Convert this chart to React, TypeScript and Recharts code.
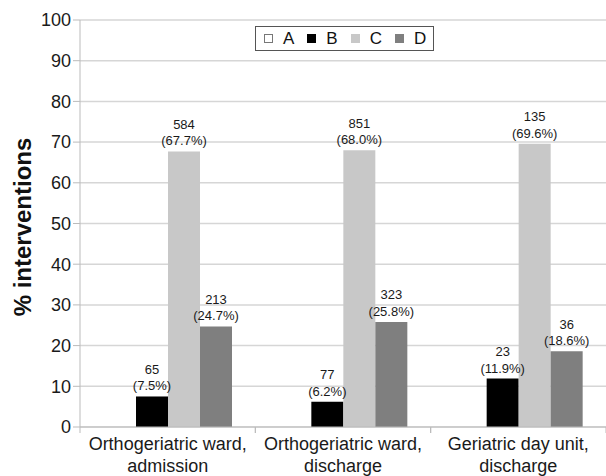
import React from "react";
import {
  BarChart,
  Bar,
  XAxis,
  YAxis,
  CartesianGrid,
  Legend,
  LabelList,
} from "recharts";

const categories = [
  "Orthogeriatric ward, admission",
  "Orthogeriatric ward, discharge",
  "Geriatric day unit, discharge",
];
const categoryLines = [
  ["Orthogeriatric ward,", "admission"],
  ["Orthogeriatric ward,", "discharge"],
  ["Geriatric day unit,", "discharge"],
];
const seriesNames = ["A", "B", "C", "D"];
const seriesColors = ["#ffffff", "#000000", "#c8c8c8", "#7f7f7f"];
const pctA = [0, 0, 0];
const pctB = [7.5, 6.2, 11.9];
const pctC = [67.7, 68.0, 69.6];
const pctD = [24.7, 25.8, 18.6];
const countA: (number | null)[] = [null, null, null];
const countB = [65, 77, 23];
const countC = [584, 851, 135];
const countD = [213, 323, 36];
const yTicks = [0, 10, 20, 30, 40, 50, 60, 70, 80, 90, 100];

const W = 606;
const H = 476;
const Y_W = 80;
const BAND = (W - Y_W) / categories.length;

const data = categories.map((c, i) => ({
  name: c,
  i,
  A: pctA[i],
  B: pctB[i],
  C: pctC[i],
  D: pctD[i],
  nA: countA[i],
  nB: countB[i],
  nC: countC[i],
  nD: countD[i],
}));

const FONT = "'Liberation Sans', Arial, sans-serif";

const XTick = (props: any) => {
  const { x, y, payload, index } = props;
  const lines = categoryLines[payload.index ?? index] || [payload.value];
  return (
    <g>
      <line x1={x - BAND / 2} x2={x - BAND / 2} y1={427} y2={433} stroke="#bbbbbb" />
      <line x1={x + BAND / 2} x2={x + BAND / 2} y1={427} y2={433} stroke="#bbbbbb" />
      <text x={x} y={y} textAnchor="middle" fontSize={18} fill="#1a1a1a" fontFamily={FONT}>
        {lines.map((l: string, k: number) => (
          <tspan key={k} x={x} dy={k === 0 ? 15 : 21.5}>
            {l}
          </tspan>
        ))}
      </text>
    </g>
  );
};

const makeLabel = (countKey: string) => (props: any) => {
  const { x, y, width, index } = props;
  const row: any = data[index];
  const n = row[countKey];
  if (n == null) return null;
  const pct = row[countKey.slice(1)];
  const cx = x + width / 2;
  return (
    <g>
      <text x={cx} y={y - 22.5} textAnchor="middle" fontSize={13} fill="#1a1a1a" fontFamily={FONT}>
        {n}
      </text>
      <text x={cx} y={y - 6} textAnchor="middle" fontSize={13} fill="#1a1a1a" fontFamily={FONT}>
        ({pct.toFixed(1)}%)
      </text>
    </g>
  );
};

const LegendBox = () => (
  <div
    style={{
      display: "flex",
      alignItems: "center",
      border: "1px solid #555",
      background: "#fff",
      height: 23,
      padding: "0 7px 0 8px",
      boxSizing: "content-box",
      fontFamily: FONT,
      fontSize: 17,
      color: "#111",
      whiteSpace: "nowrap",
    }}
  >
    {seriesNames.map((s, i) => (
      <div key={s} style={{ display: "flex", alignItems: "center", marginRight: i === seriesNames.length - 1 ? 0 : 13 }}>
        <span
          style={{
            display: "inline-block",
            width: i === 0 ? 7 : 9,
            height: i === 0 ? 7 : 9,
            background: seriesColors[i],
            border: i === 0 ? "1px solid #777" : "none",
            marginRight: 10,
          }}
        />
        <span>{s}</span>
      </div>
    ))}
  </div>
);

export default function App() {
  return (
    <div style={{ position: "absolute", left: 0, top: 0, width: W, height: H, background: "#fff" }}>
      <BarChart
        width={W}
        height={H}
        data={data}
        margin={{ top: 20, right: 0, left: 0, bottom: 0 }}
        barCategoryGap={24}
        barGap={0}
        style={{ fontFamily: FONT }}
      >
        <CartesianGrid horizontal={true} vertical={false} stroke="#d6d6d6" strokeWidth={1.5} />
        <XAxis
          dataKey="name"
          height={49}
          axisLine={{ stroke: "#bbbbbb" }}
          tickLine={false}
          tick={<XTick />}
          interval={0}
        />
        <YAxis
          width={Y_W}
          domain={[0, 100]}
          ticks={yTicks}
          interval={0}
          tickSize={7}
          tickMargin={2}
          axisLine={{ stroke: "#bbbbbb" }}
          tickLine={{ stroke: "#bbbbbb" }}
          tick={{ fontSize: 18, fill: "#1a1a1a", fontFamily: FONT }}
          label={{
            content: () => (
              <text
                x={31}
                y={227}
                transform="rotate(-90 31 227)"
                textAnchor="middle"
                fontSize={24}
                fontWeight="bold"
                fill="#111"
                fontFamily={FONT}
              >
                % interventions
              </text>
            ),
          }}
        />
        <Legend
          layout="horizontal"
          verticalAlign="middle"
          align="center"
          content={<LegendBox />}
          wrapperStyle={{ top: 26, left: 255, width: "auto" }}
        />
        {seriesNames.map((s, i) => (
          <Bar
            key={s}
            dataKey={s}
            fill={seriesColors[i]}
            stroke={i === 0 ? "#777" : "none"}
            isAnimationActive={false}
          >
            <LabelList dataKey={"n" + s} content={makeLabel("n" + s)} />
          </Bar>
        ))}
      </BarChart>
    </div>
  );
}
